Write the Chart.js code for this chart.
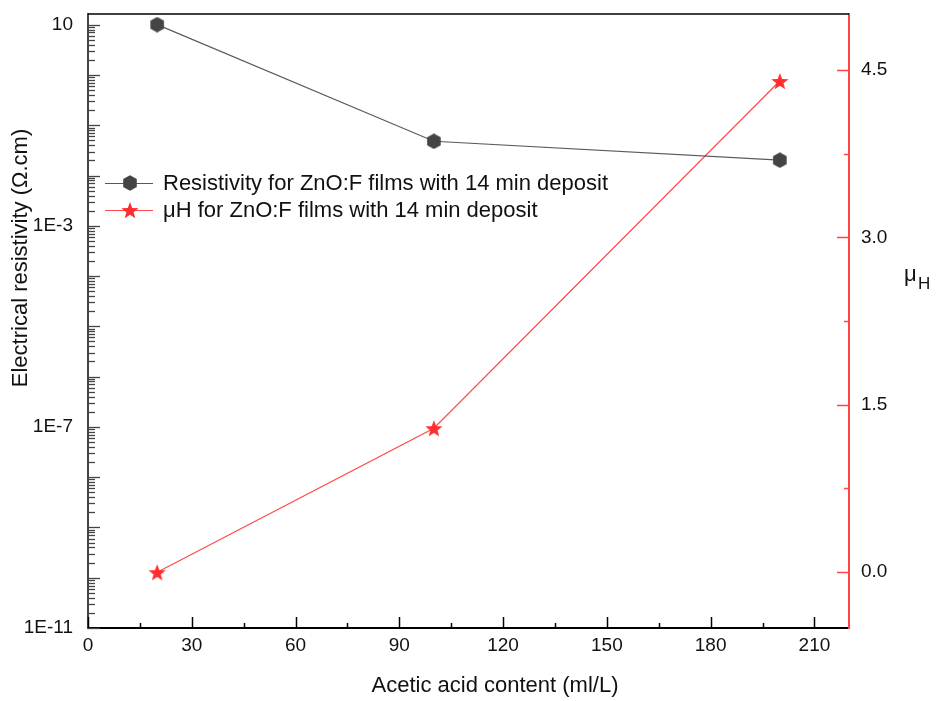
<!DOCTYPE html>
<html>
<head>
<meta charset="utf-8">
<script src="https://cdn.jsdelivr.net/npm/chart.js@4"></script>
<style>
  html, body { margin: 0; padding: 0; background: #fff; }
  #wrap { width: 938px; height: 701px; }
</style>
</head>
<body>
<div id="wrap"><canvas id="g1"></canvas></div>
<script>
// data
var acidContent = [20, 100, 200];
var resistivity = [10, 0.048, 0.0202];
var mobility = [0.0, 1.29, 4.4];
var seriesLabels = ['Resistivity for ZnO:F films with 14 min deposit', 'μH for ZnO:F films with 14 min deposit'];
var logTickLabels = [10, 1e-3, 1e-7, 1e-11];

var FONT = '"Liberation Sans", Arial, sans-serif';
var greyLine = '#5a5a5a';
var redLine = '#ff4a4a';
var redAxis = '#ff4545';

// marker images (hexagon + five point star)
function hexagon(size, color) {
    var c = document.createElement('canvas');
    c.width = size; c.height = size;
    var g = c.getContext('2d');
    var r = size / 2;
    g.beginPath();
    for (var i = 0; i < 6; i++) {
        var a = Math.PI / 2 + i * Math.PI / 3;
        g.lineTo(r + r * Math.cos(a) * 0.98, r - r * Math.sin(a) * 0.98);
    }
    g.closePath();
    g.fillStyle = color;
    g.fill();
    return c;
}
function star(size, color) {
    var c = document.createElement('canvas');
    c.width = size; c.height = size;
    var g = c.getContext('2d');
    var R = size / 2, r = R * 0.42, cx = size / 2, cy = size / 2 + 1;
    g.beginPath();
    for (var i = 0; i < 10; i++) {
        var rad = i % 2 ? r : R;
        var a = -Math.PI / 2 + i * Math.PI / 5;
        g.lineTo(cx + rad * Math.cos(a), cy + rad * Math.sin(a));
    }
    g.closePath();
    g.fillStyle = color;
    g.fill();
    return c;
}
var hexImg = hexagon(16, '#444444');
var starImg = star(18, '#ff2d2d');

function isDecade(v) {
    var l = Math.log10(v);
    return Math.abs(l - Math.round(l)) < 1e-6;
}

function noPad(s) {
    s.paddingTop = 0; s.paddingBottom = 0;
    s.paddingLeft = 0; s.paddingRight = 0;
}

// inward tick marks, frame top, axis titles, legend
var decor = {
    id: 'decor',
    afterDraw: function(chart) {
        var ctx = chart.ctx, a = chart.chartArea;
        var sx = chart.scales.x, sy = chart.scales.y, sy1 = chart.scales.y1;
        function line(x1, y1, x2, y2) {
            ctx.beginPath(); ctx.moveTo(x1, y1); ctx.lineTo(x2, y2); ctx.stroke();
        }
        ctx.save();
        // top frame
        ctx.strokeStyle = '#000'; ctx.lineWidth = 1.5;
        line(a.left, a.top, a.right, a.top);

        // x ticks
        ctx.lineWidth = 1.5;
        sx.ticks.forEach(function(t, i) {
            var px = Math.round(sx.getPixelForValue(t.value)) + 0.5;
            line(px, a.bottom, px, a.bottom - 11);
            if (i < sx.ticks.length - 1) {
                var m = Math.round(sx.getPixelForValue((t.value + sx.ticks[i + 1].value) / 2)) + 0.5;
                line(m, a.bottom, m, a.bottom - 5);
            }
        });

        // log y ticks
        ctx.strokeStyle = '#444'; ctx.lineWidth = 1.3;
        sy.ticks.forEach(function(t) {
            var py = Math.round(sy.getPixelForValue(t.value)) + 0.5;
            line(a.left, py, a.left + (isDecade(t.value) ? 12 : 7), py);
        });

        // right y ticks
        ctx.strokeStyle = redAxis; ctx.lineWidth = 1.5;
        sy1.ticks.forEach(function(t, i) {
            var py = Math.round(sy1.getPixelForValue(t.value)) + 0.5;
            line(a.right, py, a.right - 12, py);
            if (i < sy1.ticks.length - 1) {
                var m = Math.round(sy1.getPixelForValue((t.value + sy1.ticks[i + 1].value) / 2)) + 0.5;
                line(a.right, m, a.right - 5, m);
            }
        });

        // axis titles
        ctx.fillStyle = '#111';
        ctx.font = '22px ' + FONT;
        ctx.textAlign = 'center'; ctx.textBaseline = 'middle';
        ctx.fillText('Acetic acid content (ml/L)', 495, 686);
        ctx.save();
        ctx.translate(21, 258);
        ctx.rotate(-Math.PI / 2);
        ctx.fillText('Electrical resistivity (Ω.cm)', 0, 0);
        ctx.restore();
        ctx.textAlign = 'left'; ctx.textBaseline = 'alphabetic';
        ctx.font = '22px ' + FONT;
        ctx.fillText('μ', 904, 281);
        ctx.font = '17px ' + FONT;
        ctx.fillText('H', 918, 289);

        // legend
        var rows = [
            { y: 183, color: greyLine, img: hexImg },
            { y: 210, color: redLine, img: starImg }
        ];
        ctx.font = '22px ' + FONT;
        ctx.textBaseline = 'middle';
        rows.forEach(function(r, i) {
            ctx.strokeStyle = r.color; ctx.lineWidth = 1.2;
            line(105, r.y + 0.5, 153, r.y + 0.5);
            ctx.drawImage(r.img, 130 - r.img.width / 2, r.y - r.img.height / 2);
            ctx.fillStyle = '#111';
            ctx.fillText(seriesLabels[i], 163, r.y + 1);
        });
        ctx.restore();
    }
};

var resData = acidContent.map(function(x, i) { return { x: x, y: resistivity[i] }; });
var muData = acidContent.map(function(x, i) { return { x: x, y: mobility[i] }; });

var ctx_1 = document.getElementById('g1');
var myChart = new Chart(ctx_1, {
    type: 'line',
    data: {
        datasets: [{
            label: seriesLabels[0],
            data: resData,
            yAxisID: 'y',
            borderColor: greyLine,
            borderWidth: 1.2,
            pointStyle: hexImg,
            tension: 0
        }, {
            label: seriesLabels[1],
            data: muData,
            yAxisID: 'y1',
            borderColor: redLine,
            borderWidth: 1.2,
            pointStyle: starImg,
            tension: 0
        }]
    },
    options: {
        responsive: true,
        maintainAspectRatio: false,
        animation: false,
        layout: { padding: { top: 14, left: 0, right: 0, bottom: 0 } },
        plugins: {
            legend: { display: false },
            tooltip: { enabled: false }
        },
        scales: {
            x: {
                type: 'linear',
                min: 0,
                max: 220,
                grid: { drawOnChartArea: false, drawTicks: false },
                border: { color: '#000', width: 2 },
                ticks: {
                    stepSize: 30,
                    includeBounds: false,
                    padding: 6,
                    color: '#111',
                    font: { family: FONT, size: 19 }
                },
                afterFit: function(s) { s.height = 73; noPad(s); }
            },
            y: {
                type: 'logarithmic',
                position: 'left',
                min: 1e-11,
                max: 16.3,
                grid: { drawOnChartArea: false, drawTicks: false },
                border: { color: '#444', width: 2 },
                afterBuildTicks: function(s) {
                    var t = [];
                    for (var e = -11; e <= 1; e++) {
                        for (var m = 1; m <= 9; m++) {
                            var v = m * Math.pow(10, e);
                            if (v <= s.max * 1.0001) t.push({ value: v });
                        }
                    }
                    s.ticks = t;
                },
                ticks: {
                    autoSkip: false,
                    padding: 15,
                    color: '#111',
                    font: { family: FONT, size: 19 },
                    callback: function(v) {
                        for (var i = 0; i < logTickLabels.length; i++) {
                            if (Math.abs(v / logTickLabels[i] - 1) < 1e-6) {
                                return v >= 1 ? String(Math.round(v)) : '1E' + Math.round(Math.log10(v));
                            }
                        }
                        return '';
                    }
                },
                afterFit: function(s) { s.width = 88; noPad(s); }
            },
            y1: {
                type: 'linear',
                position: 'right',
                min: -0.5,
                max: 5,
                grid: { drawOnChartArea: false, drawTicks: false },
                border: { color: redAxis, width: 2 },
                ticks: {
                    stepSize: 1.5,
                    includeBounds: false,
                    padding: 12,
                    color: '#111',
                    font: { family: FONT, size: 19 },
                    callback: function(v) { return v.toFixed(1); }
                },
                afterFit: function(s) { s.width = 89; noPad(s); }
            }
        }
    },
    plugins: [decor]
});
</script>
</body>
</html>
